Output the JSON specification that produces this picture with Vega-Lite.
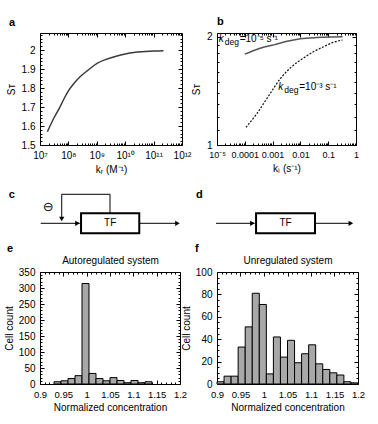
{
"$schema": "https://vega.github.io/schema/vega-lite/v6.json",
"autosize": {"type": "none"},
"padding": {"left": 40, "top": 33, "right": 338, "bottom": 391},
"background": "white",
"config": {
  "view": {"stroke": null},
  "axis": {"grid": false, "domainColor": "black", "tickColor": "black", "labelColor": "black", "titleColor": "black",
           "labelFont": "Liberation Sans", "titleFont": "Liberation Sans", "labelFontSize": 10, "titleFontSize": 10,
           "titleFontWeight": "normal", "domainWidth": 1, "tickWidth": 1, "labelOverlap": false, "labelFlush": false},
  "axisX": {"labelPadding": 9},
  "axisY": {"labelPadding": 9},
  "title": {"font": "Liberation Sans", "fontSize": 11, "fontWeight": "bold", "anchor": "start", "frame": "group", "color": "black"},
  "text": {"font": "Liberation Sans", "color": "black"}
},
"datasets": {
  "curveA": [
    {"k": 1.82e7, "s": 1.57}, {"k": 3.16e7, "s": 1.645}, {"k": 4.68e7, "s": 1.69}, {"k": 7.08e7, "s": 1.745},
    {"k": 1.05e8, "s": 1.79}, {"k": 1.58e8, "s": 1.825}, {"k": 2.69e8, "s": 1.862}, {"k": 5.01e8, "s": 1.895},
    {"k": 1.02e9, "s": 1.93}, {"k": 2e9, "s": 1.95}, {"k": 5.13e9, "s": 1.969}, {"k": 1e10, "s": 1.979},
    {"k": 2e10, "s": 1.987}, {"k": 5e10, "s": 1.992}, {"k": 1e11, "s": 1.995}, {"k": 2.24e11, "s": 1.997}
  ],
  "curveB1": [
    {"k": 1e-4, "s": 1.79}, {"k": 2e-4, "s": 1.83}, {"k": 5e-4, "s": 1.875}, {"k": 1.1e-3, "s": 1.90},
    {"k": 3e-3, "s": 1.94}, {"k": 1e-2, "s": 1.975}, {"k": 3e-2, "s": 1.99}, {"k": 7e-2, "s": 1.995}, {"k": 0.33, "s": 2.0}
  ],
  "curveB2": [
    {"k": 1.1e-4, "s": 1.12}, {"k": 2.75e-4, "s": 1.225}, {"k": 7.2e-4, "s": 1.37}, {"k": 1.9e-3, "s": 1.53},
    {"k": 4.4e-3, "s": 1.64}, {"k": 1.35e-2, "s": 1.75}, {"k": 3e-2, "s": 1.82}, {"k": 7.1e-2, "s": 1.88},
    {"k": 0.15, "s": 1.93}, {"k": 0.33, "s": 1.96}
  ],
  "labelsB": [
    {"k": 1.15e-5, "s": 1.975, "t": "=10⁻⁵ s⁻¹"},
    {"k": 0.0016, "s": 1.45, "t": "=10⁻³ s⁻¹"}
  ],
  "histE": [
    {"lo": 0.93, "hi": 0.945, "n": 7}, {"lo": 0.945, "hi": 0.96, "n": 10}, {"lo": 0.96, "hi": 0.975, "n": 17},
    {"lo": 0.975, "hi": 0.99, "n": 26}, {"lo": 0.99, "hi": 1.005, "n": 314}, {"lo": 1.005, "hi": 1.02, "n": 33},
    {"lo": 1.02, "hi": 1.035, "n": 17}, {"lo": 1.035, "hi": 1.05, "n": 10}, {"lo": 1.05, "hi": 1.065, "n": 20},
    {"lo": 1.065, "hi": 1.08, "n": 11}, {"lo": 1.08, "hi": 1.095, "n": 4}, {"lo": 1.095, "hi": 1.11, "n": 11},
    {"lo": 1.11, "hi": 1.125, "n": 4}, {"lo": 1.125, "hi": 1.14, "n": 7}
  ],
  "histF": [
    {"lo": 0.9, "hi": 0.915, "n": 2}, {"lo": 0.915, "hi": 0.93, "n": 7}, {"lo": 0.93, "hi": 0.945, "n": 7},
    {"lo": 0.945, "hi": 0.96, "n": 33}, {"lo": 0.96, "hi": 0.975, "n": 51}, {"lo": 0.975, "hi": 0.99, "n": 81},
    {"lo": 0.99, "hi": 1.005, "n": 71}, {"lo": 1.005, "hi": 1.02, "n": 9}, {"lo": 1.02, "hi": 1.035, "n": 42},
    {"lo": 1.035, "hi": 1.05, "n": 24}, {"lo": 1.05, "hi": 1.065, "n": 39}, {"lo": 1.065, "hi": 1.08, "n": 19},
    {"lo": 1.08, "hi": 1.095, "n": 27}, {"lo": 1.095, "hi": 1.11, "n": 35}, {"lo": 1.11, "hi": 1.125, "n": 18},
    {"lo": 1.125, "hi": 1.14, "n": 13}, {"lo": 1.14, "hi": 1.155, "n": 10}, {"lo": 1.155, "hi": 1.17, "n": 8},
    {"lo": 1.17, "hi": 1.185, "n": 2}, {"lo": 1.185, "hi": 1.2, "n": 1}
  ],
  "cLines": [
    {"x": 0.5, "x2": 28, "y": 27.9, "y2": 27.9},
    {"x": 69.9, "x2": 97, "y": 27.9, "y2": 27.9},
    {"x": 49.3, "x2": 49.3, "y": 42.8, "y2": 71.2},
    {"x": 15.3, "x2": 49.3, "y": 71.2, "y2": 71.2},
    {"x": 15.3, "x2": 15.3, "y": 71.2, "y2": 35}
  ],
  "cArrows": [
    {"x": 26.4, "y": 27.9, "shape": "triangle-right"},
    {"x": 96.8, "y": 27.9, "shape": "triangle-right"},
    {"x": 15.3, "y": 34.3, "shape": "triangle-down"}
  ],
  "cBox": [{"x": 28.9, "x2": 69.9, "y": 13, "y2": 42.8, "lx": 49.4, "ly": 27.9, "t": "TF"}],
  "cText": [{"x": 5.8, "y": 52.7, "t": "⊖"}],
  "cLetter": [{"x": -19.9, "y": 70.1, "t": "c"}],
  "dLines": [
    {"x": -0.7, "x2": 27, "y": 27.9, "y2": 27.9},
    {"x": 70.5, "x2": 96, "y": 27.9, "y2": 27.9}
  ],
  "dArrows": [
    {"x": 25.5, "y": 27.9, "shape": "triangle-right"},
    {"x": 96.3, "y": 27.9, "shape": "triangle-right"}
  ],
  "dBox": [{"x": 28.1, "x2": 70.5, "y": 13, "y2": 42.8, "lx": 49.3, "ly": 27.9, "t": "TF"}],
  "dLetter": [{"x": -12.7, "y": 70.1, "t": "d"}]
},
"concat": [
  {
    "width": 142, "height": 112,
    "title": {"text": "a", "dx": -31, "offset": 5},
    "data": {"name": "curveA"},
    "resolve": {"axis": {"x": "independent", "y": "independent"}},
    "layer": [
      {"mark": {"type": "line", "color": "#3a3a3a", "strokeWidth": 1.5, "interpolate": "monotone"},
       "encoding": {
         "x": {"field": "k", "type": "quantitative", "scale": {"type": "log", "domain": [1e7, 1e12]},
               "axis": {"orient": "bottom", "values": [1e7, 1e8, 1e9, 1e10, 1e11, 1e12], "tickSize": -4,
                        "labelExpr": "datum.value < 5e7 ? '10⁷' : datum.value < 5e8 ? '10⁸' : datum.value < 5e9 ? '10⁹' : datum.value < 5e10 ? '10¹⁰' : datum.value < 5e11 ? '10¹¹' : '10¹²'",
                        "title": "kᵣ (M⁻¹)", "titlePadding": 4}},
         "y": {"field": "s", "type": "quantitative", "scale": {"domain": [1.5, 2.09], "zero": false, "nice": false},
               "axis": {"orient": "left", "values": [1.5, 1.6, 1.7, 1.8, 1.9, 2.0], "format": ".1~f", "tickSize": -4, "title": "Sᴛ", "titlePadding": 5}}
       }},
      {"mark": {"type": "point", "opacity": 0},
       "encoding": {
         "x": {"field": "k", "type": "quantitative", "scale": {"type": "log", "domain": [1e7, 1e12]},
               "axis": {"orient": "top", "labels": false, "title": null,
                        "values": [1e7,2e7,3e7,4e7,5e7,6e7,7e7,8e7,9e7,1e8,2e8,3e8,4e8,5e8,6e8,7e8,8e8,9e8,1e9,2e9,3e9,4e9,5e9,6e9,7e9,8e9,9e9,1e10,2e10,3e10,4e10,5e10,6e10,7e10,8e10,9e10,1e11,2e11,3e11,4e11,5e11,6e11,7e11,8e11,9e11,1e12],
                        "tickSize": {"condition": {"test": "abs(log(datum.value)/LN10 - round(log(datum.value)/LN10)) < 0.001", "value": -4}, "value": -2}}},
         "y": {"field": "s", "type": "quantitative", "scale": {"domain": [1.5, 2.09], "zero": false, "nice": false},
               "axis": {"orient": "right", "labels": false, "title": null,
                        "values": [1.5,1.52,1.54,1.56,1.58,1.6,1.62,1.64,1.66,1.68,1.7,1.72,1.74,1.76,1.78,1.8,1.82,1.84,1.86,1.88,1.9,1.92,1.94,1.96,1.98,2,2.02,2.04,2.06,2.08],
                        "tickSize": {"condition": {"test": "abs(datum.value*10 - round(datum.value*10)) < 0.01", "value": -4}, "value": -2}}}
       }},
      {"mark": {"type": "point", "opacity": 0},
       "encoding": {
         "x": {"field": "k", "type": "quantitative", "scale": {"type": "log", "domain": [1e7, 1e12]},
               "axis": {"orient": "bottom", "labels": false, "title": null, "domain": false, "tickSize": -2,
                        "values": [2e7,3e7,4e7,5e7,6e7,7e7,8e7,9e7,2e8,3e8,4e8,5e8,6e8,7e8,8e8,9e8,2e9,3e9,4e9,5e9,6e9,7e9,8e9,9e9,2e10,3e10,4e10,5e10,6e10,7e10,8e10,9e10,2e11,3e11,4e11,5e11,6e11,7e11,8e11,9e11]}},
         "y": {"field": "s", "type": "quantitative", "scale": {"domain": [1.5, 2.09], "zero": false, "nice": false},
               "axis": {"orient": "left", "labels": false, "title": null, "domain": false, "tickSize": -2,
                        "values": [1.52,1.54,1.56,1.58,1.62,1.64,1.66,1.68,1.72,1.74,1.76,1.78,1.82,1.84,1.86,1.88,1.92,1.94,1.96,1.98,2.02,2.04,2.06,2.08]}}
       }}
    ]
  },
  {
    "width": 139, "height": 112,
    "title": {"text": "b", "dx": 0, "offset": 5},
    "resolve": {"axis": {"x": "independent", "y": "independent"}},
    "layer": [
      {"data": {"name": "curveB1"},
       "mark": {"type": "line", "color": "#555555", "strokeWidth": 1.5, "interpolate": "monotone"},
       "encoding": {
         "x": {"field": "k", "type": "quantitative", "scale": {"type": "log", "domain": [1e-5, 1]},
               "axis": {"orient": "bottom", "values": [1e-5, 1e-4, 1e-3, 1e-2, 1e-1, 1], "tickSize": -4, "labelFontSize": 9,
                        "labelExpr": "datum.value < 5e-5 ? '10⁻⁵' : datum.value < 5e-4 ? '0.0001' : datum.value < 5e-3 ? '0.001' : datum.value < 0.05 ? '0.01' : datum.value < 0.5 ? '0.1' : '1'",
                        "title": "kₗ (s⁻¹)", "titlePadding": 4}},
         "y": {"field": "s", "type": "quantitative", "scale": {"type": "log", "domain": [1, 2.05], "nice": false},
               "axis": {"orient": "left", "values": [1, 2], "format": "d", "tickSize": -4, "title": "Sᴛ", "titlePadding": 5}}
       }},
      {"data": {"name": "curveB2"},
       "mark": {"type": "line", "color": "#111111", "strokeWidth": 1.2, "strokeDash": [2, 1.5], "interpolate": "monotone"},
       "encoding": {
         "x": {"field": "k", "type": "quantitative", "scale": {"type": "log", "domain": [1e-5, 1]},
               "axis": {"orient": "top", "labels": false, "title": null,
                        "values": [1e-5,2e-5,3e-5,4e-5,5e-5,6e-5,7e-5,8e-5,9e-5,1e-4,2e-4,3e-4,4e-4,5e-4,6e-4,7e-4,8e-4,9e-4,1e-3,2e-3,3e-3,4e-3,5e-3,6e-3,7e-3,8e-3,9e-3,1e-2,2e-2,3e-2,4e-2,5e-2,6e-2,7e-2,8e-2,9e-2,0.1,0.2,0.3,0.4,0.5,0.6,0.7,0.8,0.9,1],
                        "tickSize": {"condition": {"test": "abs(log(datum.value)/LN10 - round(log(datum.value)/LN10)) < 0.001", "value": -4}, "value": -2}}},
         "y": {"field": "s", "type": "quantitative", "scale": {"type": "log", "domain": [1, 2.05], "nice": false},
               "axis": {"orient": "right", "labels": false, "title": null,
                        "values": [1,1.1,1.2,1.3,1.4,1.5,1.6,1.7,1.8,1.9,2],
                        "tickSize": {"condition": {"test": "datum.value == 1 || datum.value == 2", "value": -4}, "value": -2}}}
       }},
      {"data": {"name": "curveB2"},
       "mark": {"type": "point", "opacity": 0},
       "encoding": {
         "x": {"field": "k", "type": "quantitative", "scale": {"type": "log", "domain": [1e-5, 1]},
               "axis": {"orient": "bottom", "labels": false, "title": null, "domain": false, "tickSize": -2,
                        "values": [2e-5,3e-5,4e-5,5e-5,6e-5,7e-5,8e-5,9e-5,2e-4,3e-4,4e-4,5e-4,6e-4,7e-4,8e-4,9e-4,2e-3,3e-3,4e-3,5e-3,6e-3,7e-3,8e-3,9e-3,2e-2,3e-2,4e-2,5e-2,6e-2,7e-2,8e-2,9e-2,0.2,0.3,0.4,0.5,0.6,0.7,0.8,0.9]}},
         "y": {"field": "s", "type": "quantitative", "scale": {"type": "log", "domain": [1, 2.05], "nice": false},
               "axis": {"orient": "left", "labels": false, "title": null, "domain": false, "tickSize": -2,
                        "values": [1.1,1.2,1.3,1.4,1.5,1.6,1.7,1.8,1.9]}}
       }},
      {"data": {"name": "labelsB"},
       "mark": {"type": "text", "align": "left", "baseline": "middle", "fontSize": 10, "fontStyle": "italic"},
       "encoding": {
         "x": {"field": "k", "type": "quantitative", "scale": {"type": "log", "domain": [1e-5, 1]}, "axis": null},
         "y": {"field": "s", "type": "quantitative", "scale": {"type": "log", "domain": [1, 2.05], "nice": false}, "axis": null},
         "text": {"value": "k"}
       }},
      {"data": {"name": "labelsB"},
       "mark": {"type": "text", "align": "left", "baseline": "middle", "fontSize": 8.5, "dx": 6, "dy": 3},
       "encoding": {
         "x": {"field": "k", "type": "quantitative", "scale": {"type": "log", "domain": [1e-5, 1]}, "axis": null},
         "y": {"field": "s", "type": "quantitative", "scale": {"type": "log", "domain": [1, 2.05], "nice": false}, "axis": null},
         "text": {"value": "deg"}
       }},
      {"data": {"name": "labelsB"},
       "mark": {"type": "text", "align": "left", "baseline": "middle", "fontSize": 10, "dx": 21},
       "encoding": {
         "x": {"field": "k", "type": "quantitative", "scale": {"type": "log", "domain": [1e-5, 1]}, "axis": null},
         "y": {"field": "s", "type": "quantitative", "scale": {"type": "log", "domain": [1, 2.05], "nice": false}, "axis": null},
         "text": {"field": "t"}
       }}
    ]
  },
  {
    "width": 142, "height": 67,
    "layer": [
      {"data": {"name": "cLines"}, "mark": {"type": "rule", "color": "black", "strokeWidth": 1},
       "encoding": {
         "x": {"field": "x", "type": "quantitative", "scale": {"domain": [0, 100]}, "axis": null},
         "x2": {"field": "x2"},
         "y": {"field": "y", "type": "quantitative", "scale": {"domain": [0, 100]}, "axis": null},
         "y2": {"field": "y2"}
       }},
      {"data": {"name": "cBox"}, "mark": {"type": "rect", "fill": "white", "stroke": "black", "strokeWidth": 2},
       "encoding": {
         "x": {"field": "x", "type": "quantitative", "scale": {"domain": [0, 100]}, "axis": null},
         "x2": {"field": "x2"},
         "y": {"field": "y", "type": "quantitative", "scale": {"domain": [0, 100]}, "axis": null},
         "y2": {"field": "y2"}
       }},
      {"data": {"name": "cBox"}, "mark": {"type": "text", "fontSize": 10, "align": "center", "baseline": "middle"},
       "encoding": {
         "x": {"field": "lx", "type": "quantitative", "scale": {"domain": [0, 100]}, "axis": null},
         "y": {"field": "ly", "type": "quantitative", "scale": {"domain": [0, 100]}, "axis": null},
         "text": {"field": "t"}
       }},
      {"data": {"name": "cArrows"}, "mark": {"type": "point", "filled": true, "color": "black", "size": 28, "opacity": 1},
       "encoding": {
         "x": {"field": "x", "type": "quantitative", "scale": {"domain": [0, 100]}, "axis": null},
         "y": {"field": "y", "type": "quantitative", "scale": {"domain": [0, 100]}, "axis": null},
         "shape": {"field": "shape", "type": "nominal", "scale": null}
       }},
      {"data": {"name": "cText"}, "mark": {"type": "text", "fontSize": 13, "align": "center", "baseline": "middle", "font": "DejaVu Sans"},
       "encoding": {
         "x": {"field": "x", "type": "quantitative", "scale": {"domain": [0, 100]}, "axis": null},
         "y": {"field": "y", "type": "quantitative", "scale": {"domain": [0, 100]}, "axis": null},
         "text": {"field": "t"}
       }},
      {"data": {"name": "cLetter"}, "mark": {"type": "text", "fontSize": 11, "fontWeight": "bold", "align": "center", "baseline": "middle"},
       "encoding": {
         "x": {"field": "x", "type": "quantitative", "scale": {"domain": [0, 100]}, "axis": null},
         "y": {"field": "y", "type": "quantitative", "scale": {"domain": [0, 100]}, "axis": null},
         "text": {"field": "t"}
       }}
    ]
  },
  {
    "width": 139, "height": 67,
    "layer": [
      {"data": {"name": "dLines"}, "mark": {"type": "rule", "color": "black", "strokeWidth": 1},
       "encoding": {
         "x": {"field": "x", "type": "quantitative", "scale": {"domain": [0, 100]}, "axis": null},
         "x2": {"field": "x2"},
         "y": {"field": "y", "type": "quantitative", "scale": {"domain": [0, 100]}, "axis": null},
         "y2": {"field": "y2"}
       }},
      {"data": {"name": "dBox"}, "mark": {"type": "rect", "fill": "white", "stroke": "black", "strokeWidth": 2},
       "encoding": {
         "x": {"field": "x", "type": "quantitative", "scale": {"domain": [0, 100]}, "axis": null},
         "x2": {"field": "x2"},
         "y": {"field": "y", "type": "quantitative", "scale": {"domain": [0, 100]}, "axis": null},
         "y2": {"field": "y2"}
       }},
      {"data": {"name": "dBox"}, "mark": {"type": "text", "fontSize": 10, "align": "center", "baseline": "middle"},
       "encoding": {
         "x": {"field": "lx", "type": "quantitative", "scale": {"domain": [0, 100]}, "axis": null},
         "y": {"field": "ly", "type": "quantitative", "scale": {"domain": [0, 100]}, "axis": null},
         "text": {"field": "t"}
       }},
      {"data": {"name": "dArrows"}, "mark": {"type": "point", "filled": true, "color": "black", "size": 28, "opacity": 1},
       "encoding": {
         "x": {"field": "x", "type": "quantitative", "scale": {"domain": [0, 100]}, "axis": null},
         "y": {"field": "y", "type": "quantitative", "scale": {"domain": [0, 100]}, "axis": null},
         "shape": {"field": "shape", "type": "nominal", "scale": null}
       }},
      {"data": {"name": "dLetter"}, "mark": {"type": "text", "fontSize": 11, "fontWeight": "bold", "align": "center", "baseline": "middle"},
       "encoding": {
         "x": {"field": "x", "type": "quantitative", "scale": {"domain": [0, 100]}, "axis": null},
         "y": {"field": "y", "type": "quantitative", "scale": {"domain": [0, 100]}, "axis": null},
         "text": {"field": "t"}
       }}
    ]
  },
  {
    "width": 140, "height": 112,
    "title": {"text": "e", "dx": -33, "offset": 2},
    "data": {"name": "histE"},
    "resolve": {"axis": {"x": "independent", "y": "independent"}},
    "layer": [
      {"mark": {"type": "rect", "fill": "#a8a8a8", "stroke": "black", "strokeWidth": 1},
       "encoding": {
         "x": {"field": "lo", "type": "quantitative", "scale": {"domain": [0.9, 1.2], "nice": false, "zero": false},
               "axis": {"orient": "bottom", "values": [0.9, 0.95, 1, 1.05, 1.1, 1.15, 1.2], "format": ".2~f", "tickSize": -4, "labelFontSize": 9.5,
                        "title": "Normalized concentration", "titlePadding": 4}},
         "x2": {"field": "hi"},
         "y": {"field": "n", "type": "quantitative", "scale": {"domain": [0, 350], "nice": false},
               "axis": {"orient": "left", "values": [0, 50, 100, 150, 200, 250, 300, 350], "tickSize": -4, "title": "Cell count", "titlePadding": 4}},
         "y2": {"datum": 0}
       }},
      {"mark": {"type": "point", "opacity": 0},
       "encoding": {
         "x": {"field": "lo", "type": "quantitative", "scale": {"domain": [0.9, 1.2], "nice": false, "zero": false},
               "axis": {"orient": "top", "labels": false, "title": "Autoregulated system", "titlePadding": 6,
                        "values": [0.9,0.91,0.92,0.93,0.94,0.95,0.96,0.97,0.98,0.99,1,1.01,1.02,1.03,1.04,1.05,1.06,1.07,1.08,1.09,1.1,1.11,1.12,1.13,1.14,1.15,1.16,1.17,1.18,1.19,1.2],
                        "tickSize": {"condition": {"test": "abs(datum.value*20 - round(datum.value*20)) < 0.01", "value": -4}, "value": -2}}},
         "y": {"field": "n", "type": "quantitative", "scale": {"domain": [0, 350], "nice": false},
               "axis": {"orient": "right", "labels": false, "title": null,
                        "values": [0,10,20,30,40,50,60,70,80,90,100,110,120,130,140,150,160,170,180,190,200,210,220,230,240,250,260,270,280,290,300,310,320,330,340,350],
                        "tickSize": {"condition": {"test": "datum.value % 50 == 0", "value": -4}, "value": -2}}}
       }},
      {"mark": {"type": "point", "opacity": 0},
       "encoding": {
         "x": {"field": "lo", "type": "quantitative", "scale": {"domain": [0.9, 1.2], "nice": false, "zero": false},
               "axis": {"orient": "bottom", "labels": false, "title": null, "domain": false, "tickSize": -2,
                        "values": [0.91,0.92,0.93,0.94,0.96,0.97,0.98,0.99,1.01,1.02,1.03,1.04,1.06,1.07,1.08,1.09,1.11,1.12,1.13,1.14,1.16,1.17,1.18,1.19]}},
         "y": {"field": "n", "type": "quantitative", "scale": {"domain": [0, 350], "nice": false},
               "axis": {"orient": "left", "labels": false, "title": null, "domain": false, "tickSize": -2,
                        "values": [10,20,30,40,60,70,80,90,110,120,130,140,160,170,180,190,210,220,230,240,260,270,280,290,310,320,330,340]}}
       }}
    ]
  },
  {
    "width": 141, "height": 112,
    "title": {"text": "f", "dx": -22, "offset": 2},
    "data": {"name": "histF"},
    "resolve": {"axis": {"x": "independent", "y": "independent"}},
    "layer": [
      {"mark": {"type": "rect", "fill": "#a8a8a8", "stroke": "black", "strokeWidth": 1},
       "encoding": {
         "x": {"field": "lo", "type": "quantitative", "scale": {"domain": [0.9, 1.2], "nice": false, "zero": false},
               "axis": {"orient": "bottom", "values": [0.9, 0.95, 1, 1.05, 1.1, 1.15, 1.2], "format": ".2~f", "tickSize": -4, "labelFontSize": 9.5,
                        "title": "Normalized concentration", "titlePadding": 4}},
         "x2": {"field": "hi"},
         "y": {"field": "n", "type": "quantitative", "scale": {"domain": [0, 100], "nice": false},
               "axis": {"orient": "left", "values": [0, 20, 40, 60, 80, 100], "tickSize": -4, "title": "Cell count", "titlePadding": 4}},
         "y2": {"datum": 0}
       }},
      {"mark": {"type": "point", "opacity": 0},
       "encoding": {
         "x": {"field": "lo", "type": "quantitative", "scale": {"domain": [0.9, 1.2], "nice": false, "zero": false},
               "axis": {"orient": "top", "labels": false, "title": "Unregulated system", "titlePadding": 6,
                        "values": [0.9,0.91,0.92,0.93,0.94,0.95,0.96,0.97,0.98,0.99,1,1.01,1.02,1.03,1.04,1.05,1.06,1.07,1.08,1.09,1.1,1.11,1.12,1.13,1.14,1.15,1.16,1.17,1.18,1.19,1.2],
                        "tickSize": {"condition": {"test": "abs(datum.value*20 - round(datum.value*20)) < 0.01", "value": -4}, "value": -2}}},
         "y": {"field": "n", "type": "quantitative", "scale": {"domain": [0, 100], "nice": false},
               "axis": {"orient": "right", "labels": false, "title": null,
                        "values": [0,5,10,15,20,25,30,35,40,45,50,55,60,65,70,75,80,85,90,95,100],
                        "tickSize": {"condition": {"test": "datum.value % 20 == 0", "value": -4}, "value": -2}}}
       }},
      {"mark": {"type": "point", "opacity": 0},
       "encoding": {
         "x": {"field": "lo", "type": "quantitative", "scale": {"domain": [0.9, 1.2], "nice": false, "zero": false},
               "axis": {"orient": "bottom", "labels": false, "title": null, "domain": false, "tickSize": -2,
                        "values": [0.91,0.92,0.93,0.94,0.96,0.97,0.98,0.99,1.01,1.02,1.03,1.04,1.06,1.07,1.08,1.09,1.11,1.12,1.13,1.14,1.16,1.17,1.18,1.19]}},
         "y": {"field": "n", "type": "quantitative", "scale": {"domain": [0, 100], "nice": false},
               "axis": {"orient": "left", "labels": false, "title": null, "domain": false, "tickSize": -2,
                        "values": [5,10,15,25,30,35,45,50,55,65,70,75,85,90,95]}}
       }}
    ]
  }
],
"columns": 2,
"spacing": {"row": 30, "column": 35},
"bounds": "flush",
"align": "each"
}
